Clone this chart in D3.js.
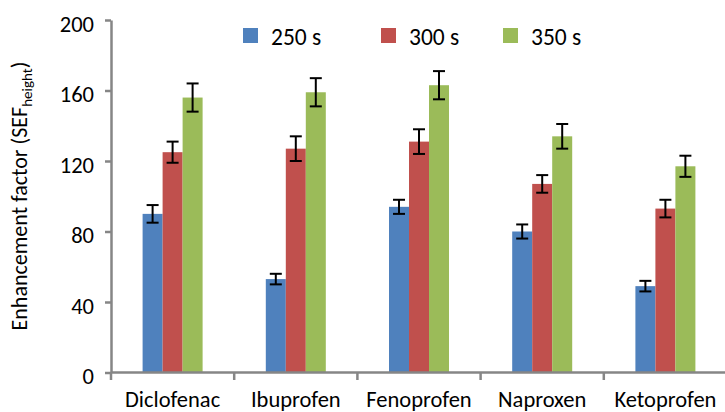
<!DOCTYPE html>
<html>
<head>
<meta charset="utf-8">
<script src="https://cdn.jsdelivr.net/npm/d3@7"></script>
<style>
  html, body { margin: 0; padding: 0; background: #fff; }
  svg { display: block; }
  text { font-family: Carlito, Calibri, "Liberation Sans", Arial, sans-serif; fill: #000; }
</style>
</head>
<body>
<svg id="chart" width="725" height="412"></svg>
<script>
// Drugs on the x axis and the three acquisition times
const categories = ["Diclofenac", "Ibuprofen", "Fenoprofen", "Naproxen", "Ketoprofen"];
const seriesNames = ["250 s", "300 s", "350 s"];
const seriesColors = ["#4F81BD", "#C0504D", "#9BBB59"];

// Enhancement factor per drug for each time
const values250 = [90, 53, 94, 80, 49];
const values300 = [125, 127, 131, 107, 93];
const values350 = [156, 159, 163, 134, 117];

// Standard deviations for the error bars
const errors250 = [5, 3, 4, 4, 3];
const errors300 = [6, 7, 7, 5, 5];
const errors350 = [8, 8, 8, 7, 6];

const yTicks = [0, 40, 80, 120, 160, 200];

const seriesValues = [values250, values300, values350];
const seriesErrors = [errors250, errors300, errors350];

const svg = d3.select("#chart");
const axisColor = "#868686";

const plotLeft = 111, plotRight = 727, plotTop = 20, plotBottom = 372.5;

const y = d3.scaleLinear().domain([0, 200]).range([plotBottom, plotTop]);
const x0 = d3.scaleBand().domain(categories).range([plotLeft, plotRight]).padding(0);
const groupWidth = 60;
const x1 = d3.scaleBand().domain(seriesNames).range([0, groupWidth]).padding(0);

// Flatten into one record per bar
const bars = [];
categories.forEach((c, i) => {
  seriesNames.forEach((s, j) => {
    bars.push({ cat: c, series: s, color: seriesColors[j],
                value: seriesValues[j][i], err: seriesErrors[j][i] });
  });
});
const barX = d => x0(d.cat) + (x0.bandwidth() - groupWidth) / 2 + x1(d.series);

// Bars
svg.append("g").selectAll("rect").data(bars).enter().append("rect")
  .attr("x", d => barX(d))
  .attr("y", d => y(d.value))
  .attr("width", x1.bandwidth())
  .attr("height", d => y(0) - y(d.value))
  .attr("fill", d => d.color);

// Error bars
const eb = svg.append("g").attr("stroke", "#000").attr("stroke-width", 2);
bars.forEach(d => {
  const cx = barX(d) + x1.bandwidth() / 2;
  const y1 = y(d.value + d.err), y2 = y(d.value - d.err);
  eb.append("line").attr("x1", cx).attr("x2", cx).attr("y1", y1).attr("y2", y2);
  eb.append("line").attr("x1", cx - 6).attr("x2", cx + 6).attr("y1", y1).attr("y2", y1);
  eb.append("line").attr("x1", cx - 6).attr("x2", cx + 6).attr("y1", y2).attr("y2", y2);
});

// Y axis
const yAxis = svg.append("g")
  .attr("transform", `translate(${plotLeft},0)`)
  .call(d3.axisLeft(y).tickValues(yTicks).tickSize(6).tickSizeOuter(0).tickPadding(11));
yAxis.select(".domain").attr("stroke", axisColor).attr("stroke-width", 2.5);
yAxis.selectAll(".tick line").attr("stroke", axisColor).attr("stroke-width", 2.5);
yAxis.selectAll(".tick text")
  .attr("font-size", 22.5)
  .attr("dy", "0.5em")
  .style("font-family", "Carlito, Calibri, 'Liberation Sans', Arial, sans-serif")
  .attr("fill", "#000");

// X axis: baseline with ticks on category boundaries, labels centred below
const xg = svg.append("g");
xg.append("line")
  .attr("x1", plotLeft).attr("x2", plotRight)
  .attr("y1", y(0)).attr("y2", y(0))
  .attr("stroke", axisColor).attr("stroke-width", 2.5);
const boundaries = categories.map(c => x0(c)).concat([x0.range()[1]]);
xg.selectAll("line.tk").data(boundaries).enter().append("line")
  .attr("class", "tk")
  .attr("x1", d => d).attr("x2", d => d)
  .attr("y1", y(0)).attr("y2", y(0) + 7.5)
  .attr("stroke", axisColor).attr("stroke-width", 2.5);
xg.selectAll("text").data(categories).enter().append("text")
  .attr("x", d => x0(d) + x0.bandwidth() / 2)
  .attr("y", 406.5)
  .attr("text-anchor", "middle")
  .attr("font-size", 22.5)
  .text(d => d);

// Y axis title with subscript
const title = svg.append("text")
  .attr("transform", `translate(27,196) rotate(-90)`)
  .attr("text-anchor", "middle")
  .attr("font-size", 22);
title.append("tspan").text("Enhancement factor (SEF");
title.append("tspan").attr("font-size", 15).attr("dy", 5).text("height");
title.append("tspan").attr("dy", -5).text(")");

// Legend
const legendX = [243, 381, 503];
const legend = svg.append("g");
seriesNames.forEach((s, j) => {
  legend.append("rect")
    .attr("x", legendX[j]).attr("y", 28)
    .attr("width", 15).attr("height", 15)
    .attr("fill", seriesColors[j]);
  legend.append("text")
    .attr("x", legendX[j] + 28).attr("y", 45)
    .attr("font-size", 23.5)
    .text(s);
});
</script>
</body>
</html>
